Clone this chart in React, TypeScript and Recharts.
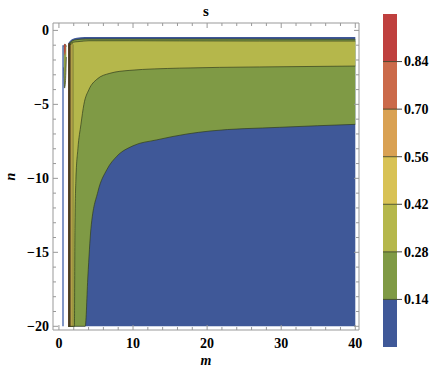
import React from 'react';
import { ComposedChart, Area, Line, XAxis, YAxis, BarChart, Bar, ReferenceLine } from 'recharts';

// contour colours, low -> high (same as the legend bands)
const bandColors = ['#3F5898', '#7F9A45', '#B5B74B', '#D8C255', '#D9A153', '#CB6A4A', '#BF403E'];
const levels = [0, 0.14, 0.28, 0.42, 0.56, 0.7, 0.84, 0.98];
const legendTicks = [0.14, 0.28, 0.42, 0.56, 0.7, 0.84];

// band edges: m -> [lower n, upper n]
const blueM = [1.28, 1.75, 2.43, 3.5, 40];
const blueLo = [-20, -20, -20, -20, -20];
const blueHi = [-0.85, -0.6, -0.5, -0.44, -0.45];

const greenM = [1.3, 1.75, 2.43, 3.55, 3.91, 4.32, 5.26, 6.48, 7.83, 10, 13.2, 17.3, 20.4, 29.8, 40];
const greenLo = [-20, -20, -20, -20, -16.6, -13.4, -10.9, -9.4, -8.5, -7.8, -7.4, -7.0, -6.8, -6.55, -6.35];
const greenHi = [-0.95, -0.72, -0.62, -0.58, -0.58, -0.58, -0.58, -0.58, -0.58, -0.58, -0.58, -0.58, -0.58, -0.59, -0.6];

const oliveM = [1.3, 1.75, 2.09, 2.16, 2.29, 2.56, 2.97, 3.37, 4.05, 5.13, 6.88, 9.58, 16.3, 27.1, 40];
const oliveLo = [-20, -20, -20, -13.4, -10.1, -8.0, -6.35, -5.0, -4.0, -3.3, -2.9, -2.7, -2.55, -2.47, -2.41];
const oliveHi = [-1.0, -0.82, -0.79, -0.78, -0.77, -0.76, -0.74, -0.72, -0.7, -0.7, -0.7, -0.7, -0.71, -0.72, -0.72];

const yellowM = [1.28, 1.89];
const yellowLo = [-20, -20];
const yellowHi = [-0.95, -0.9];

const orangeM = [1.28, 1.62];
const orangeLo = [-20, -20];
const orangeHi = [-0.95, -0.95];

const orangeRedM = [1.28, 1.5];
const orangeRedLo = [-20, -20];
const orangeRedHi = [-0.92, -0.95];

const redM = [1.28, 1.4];
const redLo = [-20, -20];
const redHi = [-0.88, -0.92];

// small island left of the gap
const patchM = [0.62, 0.75, 0.88, 1.0];
const patchLo = [-2.5, -3.9, -3.5, -1.8];
const patchHi = [-1.1, -0.95, -0.95, -1.1];
const tipM = [0.7, 0.8, 0.9];
const tipLo = [-1.4, -1.7, -1.4];
const tipHi = [-0.98, -0.9, -0.98];

// vertical contour lines in the narrow strip
const stripLines = [1.3, 1.35, 1.4, 1.45, 1.5, 1.62, 1.89];
const edgeLineM = 0.55;

const xTicks = [0, 2, 4, 6, 8, 10, 12, 14, 16, 18, 20, 22, 24, 26, 28, 30, 32, 34, 36, 38, 40];
const yTicks = [0, -1, -2, -3, -4, -5, -6, -7, -8, -9, -10, -11, -12, -13, -14, -15, -16, -17, -18, -19, -20];

const mk = (m: number[], lo: number[], hi: number[]) => m.map((v, i) => ({ m: v, r: [lo[i], hi[i]] }));

const font = "'Liberation Serif', 'Times New Roman', serif";
const tickStyle = { fontFamily: font, fontWeight: 700, fontSize: 14, fill: '#000' };
const frame = '#999';
const lineCol = '#2e3a1c';

const LeftTick = (props: any) => {
  const { x, y, payload } = props;
  const v = payload.value;
  const major = v % 5 === 0;
  const fx = x + 4;
  return (
    <g>
      <line x1={fx} x2={fx + (major ? 5 : 3)} y1={y} y2={y} stroke={frame} />
      {major && (
        <text x={x} y={y} dy="0.35em" textAnchor="end" style={tickStyle}>
          {v === 0 ? '0' : '\u2212' + Math.abs(v)}
        </text>
      )}
    </g>
  );
};

const BottomTick = (props: any) => {
  const { x, y, payload } = props;
  const v = payload.value;
  const major = v % 10 === 0;
  const fy = y - 8;
  return (
    <g>
      <line x1={x} x2={x} y1={fy} y2={fy - (major ? 5 : 3)} stroke={frame} />
      {major && (
        <text x={x} y={y} dy="0.71em" textAnchor="middle" style={tickStyle}>
          {v}
        </text>
      )}
    </g>
  );
};

const TopTick = (props: any) => {
  const { x, y, payload } = props;
  const major = payload.value % 10 === 0;
  return <line x1={x} x2={x} y1={y} y2={y + (major ? 5 : 3)} stroke={frame} />;
};

const RightTick = (props: any) => {
  const { x, y, payload } = props;
  const major = payload.value % 5 === 0;
  return <line x1={x} x2={x - (major ? 5 : 3)} y1={y} y2={y} stroke={frame} />;
};

const LegendTick = (props: any) => {
  const { x, y, payload } = props;
  return (
    <g>
      <line x1={x - 7} x2={x - 2} y1={y} y2={y} stroke="#444" />
      <text x={x} y={y} dy="0.35em" textAnchor="start" style={tickStyle}>
        {payload.value.toFixed(2)}
      </text>
    </g>
  );
};

const legendRow: any = { k: 'c' };
for (let i = 0; i < bandColors.length; i++) legendRow['b' + i] = levels[i + 1] - levels[i];

export default function App() {
  const bands = [
    { d: mk(blueM, blueLo, blueHi), c: bandColors[0], s: 'none', t: 'monotone' },
    { d: mk(greenM, greenLo, greenHi), c: bandColors[1], s: lineCol, t: 'monotone' },
    { d: mk(oliveM, oliveLo, oliveHi), c: bandColors[2], s: lineCol, t: 'monotone' },
    { d: mk(yellowM, yellowLo, yellowHi), c: bandColors[3], s: lineCol, t: 'linear' },
    { d: mk(orangeM, orangeLo, orangeHi), c: bandColors[4], s: lineCol, t: 'linear' },
    { d: mk(orangeRedM, orangeRedLo, orangeRedHi), c: bandColors[5], s: lineCol, t: 'linear' },
    { d: mk(redM, redLo, redHi), c: bandColors[6], s: lineCol, t: 'linear' },
    { d: mk(patchM, patchLo, patchHi), c: '#93A046', s: lineCol, t: 'monotone' },
    { d: mk(tipM, tipLo, tipHi), c: bandColors[6], s: 'none', t: 'monotone' },
  ];

  return (
    <div style={{ position: 'absolute', left: 0, top: 0, width: 436, height: 378, background: '#fff' }}>
      <div
        style={{
          position: 'absolute', left: 53, top: 3, width: 306, textAlign: 'center',
          fontFamily: font, fontWeight: 700, fontSize: 15, lineHeight: '16px',
        }}
      >
        s
      </div>
      <div style={{ position: 'absolute', left: 0, top: 0 }}>
        <ComposedChart width={436} height={378} margin={{ top: 13, right: 67, bottom: 8, left: 0 }}>
          <XAxis
            dataKey="m" type="number" domain={[-0.8, 40.5]} allowDataOverflow
            ticks={xTicks} interval={0} tickSize={0} tickMargin={8} height={40}
            axisLine={{ stroke: frame }} tickLine={false} tick={<BottomTick />}
            label={{ value: 'm', position: 'insideBottom', offset: 5, style: { fontFamily: font, fontWeight: 700, fontStyle: 'italic', fontSize: 14, fill: '#000' } }}
          />
          <XAxis
            xAxisId="top" orientation="top" dataKey="m" type="number" domain={[-0.8, 40.5]} allowDataOverflow
            ticks={xTicks} interval={0} tickSize={0} tickMargin={0} height={10}
            axisLine={{ stroke: frame }} tickLine={false} tick={<TopTick />}
          />
          <YAxis
            type="number" domain={[-20.25, 0.5]} allowDataOverflow
            ticks={yTicks} interval={0} tickSize={0} tickMargin={4} width={53}
            axisLine={{ stroke: frame }} tickLine={false} tick={<LeftTick />}
            label={{ value: 'n', angle: -90, position: 'insideLeft', offset: 10, style: { textAnchor: 'middle', fontFamily: font, fontWeight: 700, fontStyle: 'italic', fontSize: 14, fill: '#000' } }}
          />
          <YAxis
            yAxisId="right" orientation="right" type="number" domain={[-20.25, 0.5]} allowDataOverflow
            ticks={yTicks} interval={0} tickSize={0} tickMargin={0} width={10}
            axisLine={{ stroke: frame }} tickLine={false} tick={<RightTick />}
          />
          {bands.map((b, i) => (
            <Area
              key={'band' + i}
              data={b.d}
              dataKey="r"
              type={b.t as any}
              fill={b.c}
              fillOpacity={1}
              stroke={b.s}
              strokeOpacity={0.75}
              strokeWidth={0.9}
              dot={false}
              activeDot={false}
              isAnimationActive={false}
            />
          ))}
          {stripLines.map((m, i) => (
            <Line
              key={'strip' + i}
              data={[{ m, n: -20 }, { m, n: -0.95 }]}
              dataKey="n"
              stroke={lineCol}
              strokeOpacity={0.7}
              strokeWidth={0.8}
              dot={false}
              activeDot={false}
              isAnimationActive={false}
            />
          ))}
          <Line
            data={[{ m: edgeLineM, n: -20 }, { m: edgeLineM, n: -1.0 }]}
            dataKey="n"
            stroke="#3F5FA8"
            strokeWidth={1.3}
            dot={false}
            activeDot={false}
            isAnimationActive={false}
          />
        </ComposedChart>
      </div>
      <div style={{ position: 'absolute', left: 370, top: 0 }}>
        <BarChart width={66} height={378} data={[legendRow]} margin={{ top: 14, right: 0, bottom: 31, left: 13 }} barCategoryGap={0} barGap={0}>
          <XAxis dataKey="k" hide />
          <YAxis
            orientation="right" type="number" domain={[0, 0.98]} ticks={legendTicks} interval={0}
            width={39} tickSize={0} tickMargin={7} axisLine={false} tickLine={false} tick={<LegendTick />}
          />
          {bandColors.map((c, i) => (
            <Bar key={'lb' + i} dataKey={'b' + i} stackId="c" fill={c} isAnimationActive={false} />
          ))}
          {legendTicks.map((v) => (
            <ReferenceLine key={'rl' + v} y={v} stroke={lineCol} strokeOpacity={0.8} />
          ))}
        </BarChart>
      </div>
    </div>
  );
}
